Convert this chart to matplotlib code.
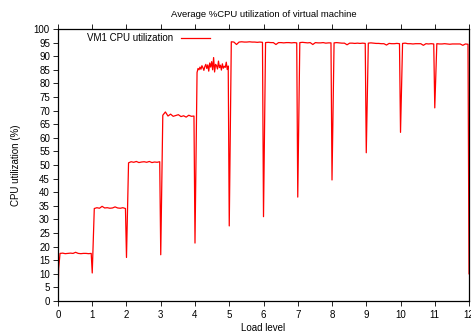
import numpy as np
import matplotlib
matplotlib.use("Agg")
import matplotlib.pyplot as plt

plt.rcParams['font.family'] = ['Liberation Sans', 'DejaVu Sans']

title = "Average %CPU utilization of virtual machine"
series_name = "VM1 CPU utilization"
x_label = "Load level"
y_label = "CPU utilization (%)"

# load levels 0..11: samples read across each plateau
plateau_0 = [17.5, 17.6, 17.4, 17.5, 17.6, 17.5, 17.9, 17.5, 17.4, 17.5, 17.5, 17.4, 17.5]
plateau_1 = [34.0, 34.3, 34.1, 34.8, 34.2, 34.3, 34.1, 34.2, 34.6, 34.2, 34.1, 34.3, 34.0]
plateau_2 = [50.8, 51.2, 51.0, 51.3, 50.9, 51.1, 51.2, 51.0, 51.3, 50.9, 51.1, 51.0, 51.2]
plateau_3 = [68.3, 69.5, 68.0, 68.7, 67.9, 68.2, 68.5, 67.8, 68.1, 67.6, 68.3, 67.9, 68.0]
plateau_4 = [84.0, 85.5, 85.0, 86.0, 85.2, 86.5, 85.8, 84.8, 86.2, 87.0, 85.5, 86.8,
             84.5, 87.5, 86.0, 88.0, 85.0, 89.5, 84.2, 87.0, 86.5, 85.3, 88.2, 85.8,
             86.7, 84.9, 87.2, 85.6, 86.3, 85.9, 87.8, 85.1, 86.4]
plateau_5 = [95.3, 95.2, 94.3, 95.2, 95.3, 95.2, 95.2, 95.3, 95.2, 95.2, 95.1, 95.2, 95.1]
plateau_6 = [95.0, 95.1, 95.0, 95.0, 94.3, 95.0, 95.0, 94.9, 95.0, 95.0, 94.9, 95.0, 94.9]
plateau_7 = [95.0, 95.1, 95.0, 94.9, 95.0, 94.3, 95.0, 94.9, 94.9, 95.0, 94.8, 94.9, 94.9]
plateau_8 = [94.9, 95.0, 94.9, 94.8, 94.8, 94.2, 94.8, 94.8, 94.7, 94.8, 94.7, 94.8, 94.7]
plateau_9 = [94.8, 94.9, 94.8, 94.7, 94.7, 94.6, 94.6, 94.1, 94.7, 94.6, 94.6, 94.7, 94.6]
plateau_10 = [94.7, 94.8, 94.6, 94.6, 94.5, 94.6, 94.6, 94.6, 94.0, 94.6, 94.5, 94.6, 94.5]
plateau_11 = [94.6, 94.5, 94.5, 94.6, 94.5, 94.4, 94.5, 94.5, 94.5, 94.5, 94.0, 94.5, 94.4]
plateaus = [plateau_0, plateau_1, plateau_2, plateau_3, plateau_4, plateau_5,
            plateau_6, plateau_7, plateau_8, plateau_9, plateau_10, plateau_11]

# dip at the start of each new load level (1..12)
dips = [10.3, 16.0, 17.0, 21.3, 27.6, 31.0, 38.2, 44.5, 54.5, 62.0, 71.0, 10.0]
start_values = [0.0, 12.0]

xs, ys = [0.0, 0.02], list(start_values)
for i, pl in enumerate(plateaus):
    px = np.linspace(i + 0.06, i + 0.97, len(pl))
    xs.extend(px)
    ys.extend(pl)
    xs.append(i + 1.0)
    ys.append(dips[i])

fig = plt.figure(figsize=(4.71, 3.33), dpi=100)
ax = fig.add_axes([0.1231, 0.0961, 0.8727, 0.8168])
ax.plot(xs, ys, color='#ff0000', lw=0.9, label=series_name)

ax.set_xlim(0, 12)
ax.set_ylim(0, 100)
ax.set_xticks(range(0, 13))
ax.set_yticks(range(0, 101, 5))
ax.tick_params(direction='out', top=True, right=False, length=3.3, width=0.6,
               labelsize=7, pad=2.5, colors='black')
ax.tick_params(axis='x', pad=3.5)
for s in ax.spines.values():
    s.set_linewidth(0.9)

ax.set_title(title, fontsize=6.8, pad=9)
ax.set_xlabel(x_label, fontsize=7, labelpad=2)
ax.set_ylabel(y_label, fontsize=7, labelpad=9)

ax.legend(loc='upper left', bbox_to_anchor=(0.05, 1.017), frameon=False,
          markerfirst=False, fontsize=7, handlelength=3.0, handletextpad=0.8)

fig.savefig("out.png", dpi=100)
